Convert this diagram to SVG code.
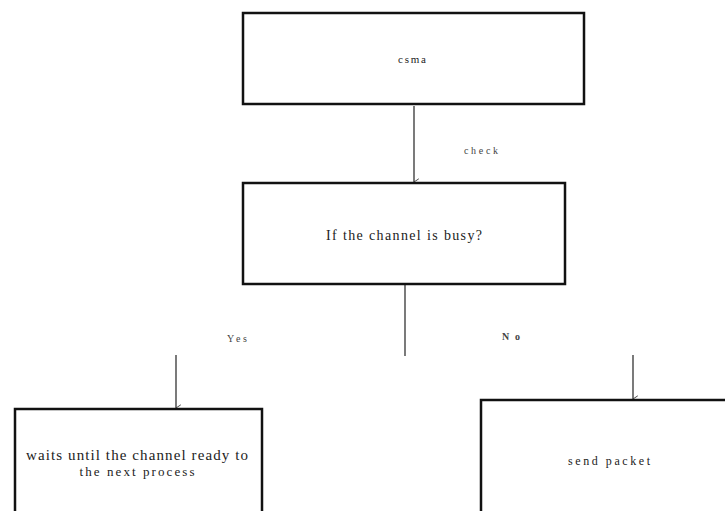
<svg xmlns="http://www.w3.org/2000/svg" width="725" height="511" viewBox="0 0 725 511">
  <defs>
    <marker id="arrow" viewBox="0 0 10 10" refX="5" refY="9" markerWidth="8" markerHeight="8" markerUnits="userSpaceOnUse" orient="auto-start-reverse">
      <path d="M1,3 L5,9 L9,3" fill="none" stroke="#444" stroke-width="1.2"/>
    </marker>
  </defs>
  <style>
    .box { fill: #ffffff; stroke: #111111; stroke-width: 2.5; }
    .edge { stroke: #333333; stroke-width: 1.3; fill: none; }
    .label { font-family: "Liberation Serif", "Times New Roman", serif; fill: #222222; text-anchor: middle; }
    .small { font-size: 10px; fill: #444444; }
  </style>
  <rect width="725" height="511" fill="#ffffff"/>

  <g id="connectors">
    <line class="edge" x1="414" y1="106" x2="414" y2="182" marker-end="url(#arrow)"/>
    <line class="edge" x1="405" y1="285" x2="405" y2="356"/>
    <line class="edge" x1="176" y1="355" x2="176" y2="408" marker-end="url(#arrow)"/>
    <line class="edge" x1="633" y1="355" x2="633" y2="399" marker-end="url(#arrow)"/>
    <text class="label small" x="481" y="154" textLength="34">check</text>
    <text class="label small" x="237" y="342" textLength="20">Yes</text>
    <text class="label small" x="511" y="340" font-weight="bold" textLength="18">No</text>
  </g>

  <g id="csma">
    <rect class="box" x="243" y="13" width="341" height="91"/>
    <text class="label" x="412" y="63" font-size="11" textLength="28">csma</text>
  </g>

  <g id="busy-check">
    <rect class="box" x="243" y="183" width="322" height="101"/>
    <text class="label" x="404" y="240" font-size="14" textLength="156">If the channel is busy?</text>
  </g>

  <g id="wait">
    <rect class="box" x="15" y="409" width="247" height="110"/>
    <text class="label" x="137" y="460" font-size="15" textLength="222">waits until the channel ready to</text>
    <text class="label" x="137" y="476" font-size="13" textLength="115">the next process</text>
  </g>

  <g id="send-packet">
    <rect class="box" x="481" y="400" width="252" height="120"/>
    <text class="label" x="609" y="465" font-size="12" textLength="82">send packet</text>
  </g>
</svg>
